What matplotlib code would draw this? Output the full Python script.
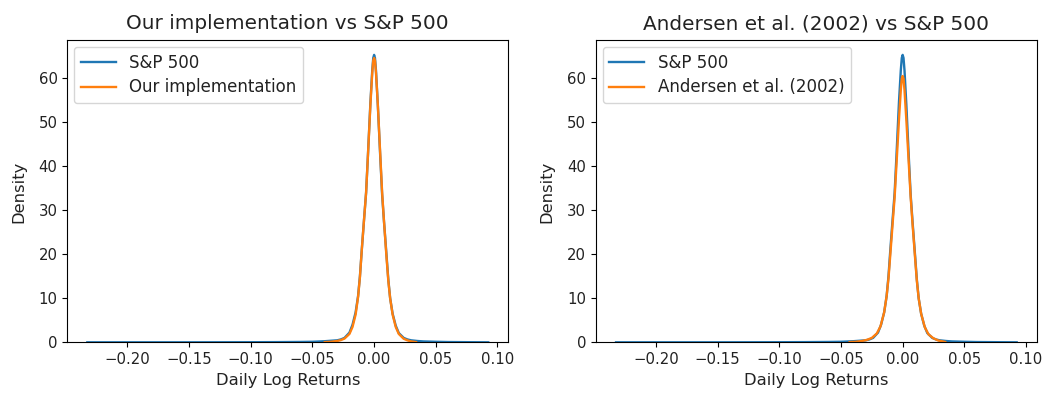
import matplotlib
matplotlib.use("Agg")
import matplotlib.pyplot as plt

# Kernel density estimates of daily log returns (x = return, y = density)
sp500_x = [-0.2325, -0.20, -0.15, -0.12, -0.10, -0.08, -0.07, -0.06, -0.05, -0.045,
           -0.040, -0.035, -0.030, -0.027, -0.024, -0.020, -0.0175, -0.015, -0.013,
           -0.0115, -0.010, -0.008, -0.0065, -0.005, -0.003, -0.0015, -0.0007, 0.0,
           0.0007, 0.0015, 0.003, 0.005, 0.0065, 0.008, 0.010, 0.0115, 0.013, 0.015,
           0.0175, 0.020, 0.024, 0.027, 0.030, 0.035, 0.040, 0.050, 0.060,
           0.070, 0.080, 0.0925]
sp500_y = [0.0, 0.0, 0.0, 0.01, 0.02, 0.04, 0.06, 0.08, 0.12, 0.18,
           0.25, 0.35, 0.45, 0.65, 1.0, 2.2, 4.0, 6.8, 10.5,
           15.0, 21.0, 28.5, 34.0, 42.5, 54.5, 61.8, 64.6, 65.3,
           64.6, 61.8, 54.0, 42.0, 33.5, 27.5, 20.0, 14.3, 10.0, 6.5,
           3.8, 2.1, 1.0, 0.65, 0.45, 0.3, 0.2, 0.12, 0.06,
           0.04, 0.02, 0.0]

ours_x = [-0.040, -0.035, -0.030, -0.027, -0.024, -0.020, -0.0175, -0.015, -0.013,
          -0.0115, -0.010, -0.008, -0.0065, -0.005, -0.003, -0.0015, -0.0007, 0.0,
          0.0007, 0.0015, 0.003, 0.005, 0.0065, 0.008, 0.010, 0.0115, 0.013, 0.015,
          0.0175, 0.020, 0.024, 0.027, 0.030, 0.034]
ours_y = [0.05, 0.12, 0.3, 0.5, 0.85, 1.9, 3.5, 6.3, 10.3,
          14.8, 21.0, 28.5, 34.0, 42.5, 54.0, 61.3, 64.0, 64.6,
          64.0, 61.3, 54.0, 42.5, 34.0, 27.5, 19.5, 14.0, 10.0, 6.3,
          3.5, 1.9, 0.8, 0.45, 0.2, 0.05]

andersen_x = [-0.043, -0.038, -0.033, -0.029, -0.025, -0.021, -0.018, -0.015, -0.013,
              -0.0115, -0.010, -0.008, -0.0065, -0.005, -0.003, -0.0015, -0.0007, 0.0,
              0.0007, 0.0015, 0.003, 0.005, 0.0065, 0.008, 0.010, 0.0115, 0.013, 0.015,
              0.018, 0.021, 0.025, 0.029, 0.0345]
andersen_y = [0.05, 0.12, 0.3, 0.55, 1.0, 2.0, 3.6, 6.8, 10.5,
              14.5, 20.0, 27.5, 33.0, 40.5, 50.5, 57.3, 59.9, 60.5,
              59.9, 57.3, 50.5, 40.5, 33.0, 27.0, 19.5, 14.0, 10.0, 6.5,
              3.4, 1.8, 0.9, 0.4, 0.08]

titles = ["Our implementation vs S&P 500", "Andersen et al. (2002) vs S&P 500"]
model_labels = ["Our implementation", "Andersen et al. (2002)"]
models = [(ours_x, ours_y), (andersen_x, andersen_y)]

plt.rcParams.update({
    "font.family": "DejaVu Sans",
    "font.size": 12,
    "axes.titlesize": 14.4,
    "axes.labelsize": 12,
    "xtick.labelsize": 10.7,
    "ytick.labelsize": 10.7,
    "legend.fontsize": 12,
    "text.color": "#222222",
    "axes.labelcolor": "#222222",
    "xtick.labelcolor": "#222222",
    "ytick.labelcolor": "#222222",
})

fig = plt.figure(figsize=(10.51, 3.99), dpi=100)
positions = [[0.0640, 0.1421, 0.4196, 0.7564],
             [0.5671, 0.1421, 0.4193, 0.7564]]

for pos, title, label, (mx, my) in zip(positions, titles, model_labels, models):
    ax = fig.add_axes(pos)
    ax.plot(sp500_x, sp500_y, color="#1f77b4", lw=1.7, label="S&P 500")
    ax.plot(mx, my, color="#ff7f0e", lw=1.7, label=label)
    ax.set_ylim(bottom=0)
    ax.set_title(title, pad=8)
    ax.set_xlabel("Daily Log Returns", fontsize=11.8)
    ax.set_ylabel("Density", fontsize=11.8, labelpad=9)
    ax.legend(loc="upper left", handlelength=2.1, labelspacing=0.4,
              borderaxespad=0.4)

fig.savefig("out.png", dpi=100)
